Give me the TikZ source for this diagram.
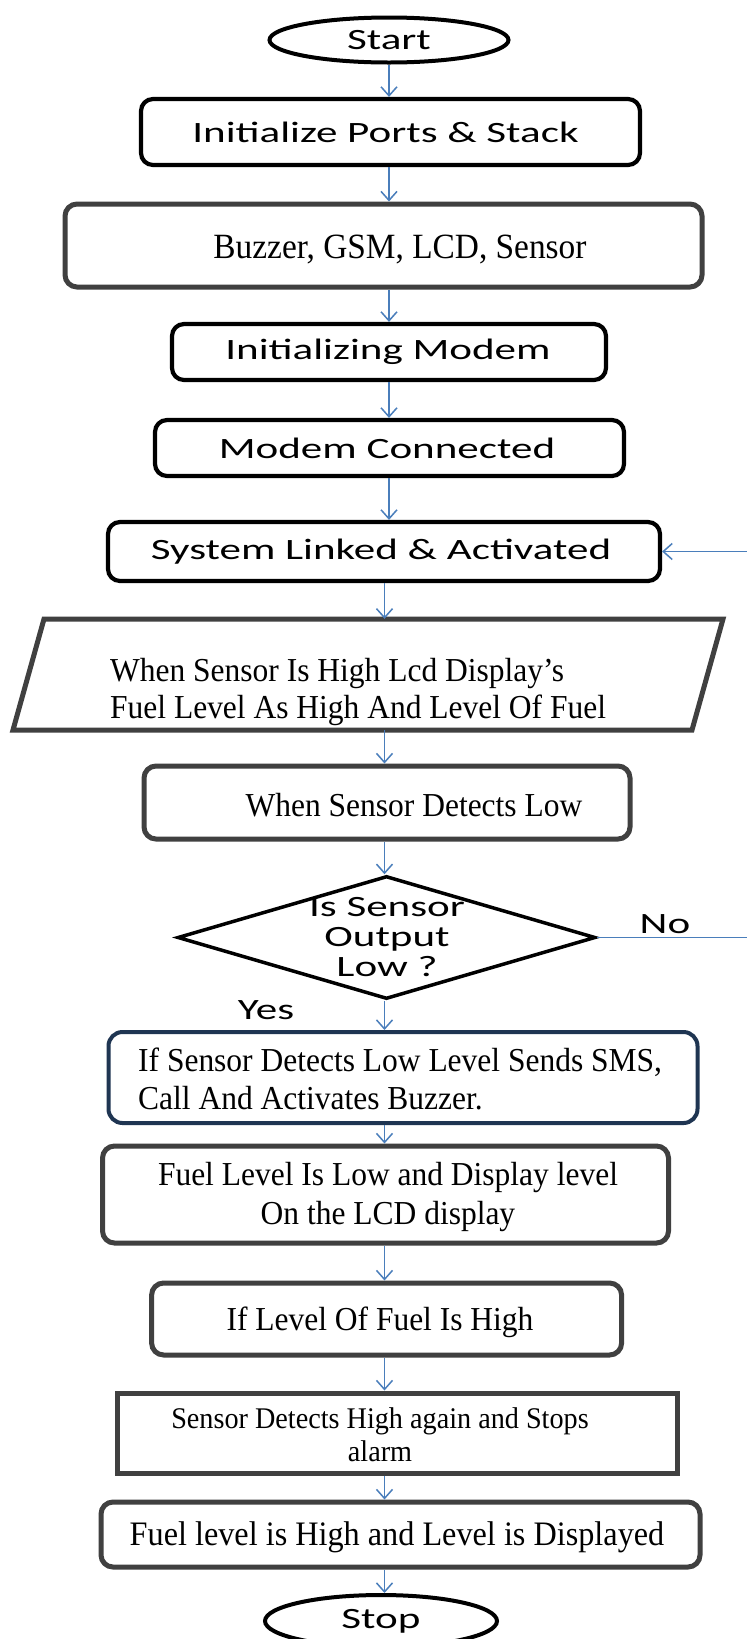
\documentclass[tikz,border=0pt]{standalone}
\usepackage{fontspec}
\usepackage{graphicx}
\usetikzlibrary{arrows.meta,shapes.geometric}
\newfontfamily\calfont[FakeStretch=1.46]{Carlito}
\newfontfamily\tmsfont[FakeStretch=0.94]{Liberation Serif}
\definecolor{arrblue}{HTML}{4A7EBB}
\definecolor{boxgray}{HTML}{404040}
\definecolor{navybox}{HTML}{1F3552}
\begin{document}
\begin{tikzpicture}[x=1pt,y=-1pt,
  blk/.style={draw=black,line width=4.2pt,rounded corners=12pt,inner sep=0pt},
  gry/.style={draw=boxgray,line width=5pt,rounded corners=12pt,inner sep=0pt},
  nvy/.style={draw=navybox,line width=4pt,rounded corners=14pt,inner sep=0pt},
  sqr/.style={draw=boxgray,line width=5pt,inner sep=0pt},
  term/.style={draw=black,line width=4pt,ellipse,inner sep=0pt,font=\calfont\fontsize{29.5}{30}\selectfont},
  sanst/.style={font=\calfont\fontsize{29.5}{31}\selectfont,inner sep=0pt,align=center},
  serift/.style={font=\tmsfont\fontsize{33.5}{36}\selectfont,inner sep=0pt},
  arr/.style={draw=arrblue,line width=1.5pt,-{Straight Barb[length=9pt,width=16pt]}},
  lnk/.style={draw=arrblue,line width=1.5pt},
]
\useasboundingbox (0,0) rectangle (747,1639);
\fill[white] (0,0) rectangle (747,1639);
\coordinate (su) at (389,0);
\coordinate (sl) at (384.5,0);
\coordinate (re) at (747,0);

% nodes
\node[term,minimum width=239pt,minimum height=45pt] (start) at (389,40) {Start};
\node[blk,minimum width=499pt,minimum height=66pt] (init) at (390.5,132) {};
\node[sanst] at (385.5,132) {Initialize Ports \& Stack};
\node[gry,minimum width=637pt,minimum height=83pt] (buzz) at (383.5,245.5) {};
\node[serift,font=\tmsfont\fontsize{35.5}{36}\selectfont] at (400,249) {Buzzer, GSM, LCD, Sensor};
\node[blk,minimum width=434pt,minimum height=56pt] (modem) at (389,352) {};
\node[sanst] at (388,352) {Initializing Modem};
\node[blk,minimum width=469pt,minimum height=56pt] (conn) at (389.5,448) {};
\node[sanst] at (387,448) {Modem Connected};
\node[blk,minimum width=552pt,minimum height=59pt] (link) at (384,551.5) {};
\node[sanst] at (381,552) {System Linked \& Activated};

\node[minimum width=710pt,minimum height=111pt,inner sep=0pt] (par) at (368,674.5) {};
\draw[boxgray,line width=5pt,line join=miter] (44,619) -- (723,619) -- (692,730) -- (13,730) -- cycle;
\node[serift,align=left,anchor=west,font=\tmsfont\fontsize{33.5}{37}\selectfont] at (110,692) {When Sensor Is High Lcd Display’s\\Fuel Level As High And Level Of Fuel};

\node[gry,minimum width=486pt,minimum height=73pt] (det) at (387,802.5) {};
\node[serift] at (414,805) {When Sensor Detects Low};

\node[draw=black,line width=3.5pt,diamond,minimum width=418pt,minimum height=123pt,inner sep=0pt] (dia) at (386.5,937.5) {};
\node[sanst,font=\calfont\fontsize{29.5}{30}\selectfont] at (387,937) {Is Sensor\\Output\\Low ?};
\node[sanst] (no) at (665,924) {No};
\node[sanst] (yes) at (266,1010) {Yes};

\node[nvy,minimum width=589pt,minimum height=91pt] (sms) at (403,1077.5) {};
\node[serift,align=left,anchor=west,font=\tmsfont\fontsize{33.5}{38}\selectfont] at (138,1079) {If Sensor Detects Low Level Sends SMS,\\Call And Activates Buzzer.};

\node[gry,minimum width=566pt,minimum height=97pt] (flow) at (385.5,1194.5) {};
\node[serift,align=center,font=\tmsfont\fontsize{33.5}{39}\selectfont] at (388,1197) {Fuel Level Is Low and Display level\\On the LCD display};

\node[gry,minimum width=470pt,minimum height=72pt] (high) at (386.6,1319) {};
\node[serift] at (380,1322) {If Level Of Fuel Is High};

\node[sqr,minimum width=560pt,minimum height=80pt] (stops) at (397,1433) {};
\node[serift,align=center,font=\tmsfont\fontsize{30}{33}\selectfont] at (380,1435) {Sensor Detects High again and Stops\\alarm};

\node[gry,minimum width=599pt,minimum height=65pt] (disp) at (400.5,1534.5) {};
\node[serift,font=\tmsfont\fontsize{34.3}{36}\selectfont] at (397,1537) {Fuel level is High and Level is Displayed};

\node[term,minimum width=232pt,minimum height=52pt] (stop) at (381,1621) {Stop};

% connectors
\draw[arr] (start.south -| su) -- (init.north -| su);
\draw[arr] (init.south -| su) -- (buzz.north -| su);
\draw[arr] (buzz.south -| su) -- (modem.north -| su);
\draw[arr] (modem.south -| su) -- (conn.north -| su);
\draw[arr] (conn.south -| su) -- (link.north -| su);
\draw[arr] (link.south -| sl) -- (par.north -| sl);
\draw[arr] (par.south -| sl) -- (det.north -| sl);
\draw[arr] (det.south -| sl) -- (dia.north -| sl);
\draw[arr] (dia.south -| sl) -- (sms.north -| sl);
\draw[arr] (sms.south -| sl) -- (flow.north -| sl);
\draw[arr] (flow.south -| sl) -- (high.north -| sl);
\draw[arr] (high.south -| sl) -- (stops.north -| sl);
\draw[arr] (stops.south -| sl) -- (disp.north -| sl);
\draw[arr] (disp.south -| sl) -- (stop.north -| sl);
\draw[lnk] (dia.east) -- (dia.east -| re);
\draw[arr] (re |- link.east) -- (link.east);
\end{tikzpicture}
\end{document}
